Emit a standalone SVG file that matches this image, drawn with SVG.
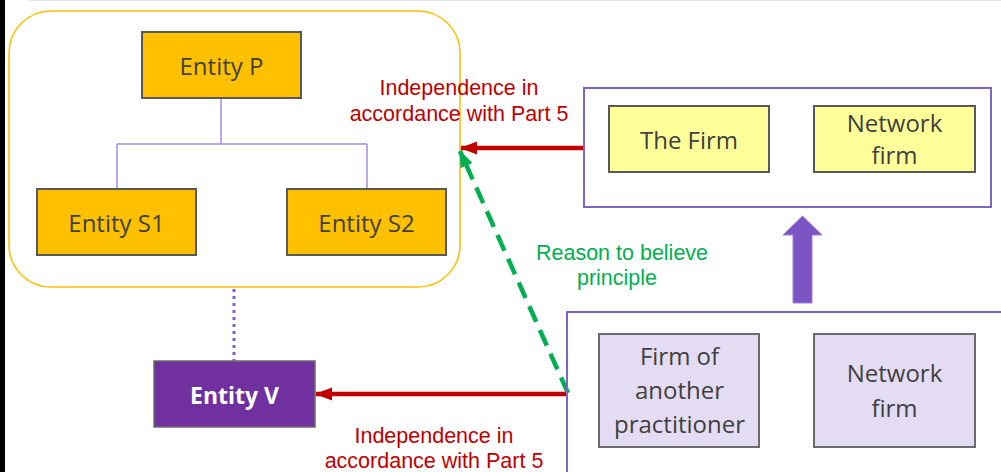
<svg xmlns="http://www.w3.org/2000/svg" width="1001" height="472" viewBox="0 0 1001 472">
<style>
.ent{fill:#FFC000;stroke:#595959;stroke-width:2}
.yel{fill:#FFFF99;stroke:#595959;stroke-width:2}
.lav{fill:#E4DCF2;stroke:#6b6b6b;stroke-width:2}
.grp{fill:none;stroke:#8064C8;stroke-width:2}
.t{font-family:"Open Sans","Noto Sans",sans-serif;font-size:24px;fill:#404040;text-anchor:middle}
.lbl{font-family:"Liberation Sans",Arial,sans-serif;font-size:21.5px;text-anchor:middle}
.red{fill:#C00000}
.grn{fill:#00B050}
</style>
<defs>
<marker id="ahR" markerUnits="userSpaceOnUse" markerWidth="18" markerHeight="14" refX="16" refY="6.5" orient="auto">
<path d="M0,0 L17,6.5 L0,13 z" fill="#C00000"/>
</marker>
<marker id="ahG" markerUnits="userSpaceOnUse" markerWidth="18" markerHeight="14" refX="16" refY="6.5" orient="auto">
<path d="M0,0 L17,6.5 L0,13 z" fill="#00B050"/>
</marker>
</defs>
<rect x="0" y="0" width="5" height="472" fill="#000"/>
<line x1="27" y1="0.5" x2="1001" y2="0.5" stroke="#E6E6EC" stroke-width="1"/>
<g id="groupP">
<rect x="9" y="11" width="451" height="276" rx="42" ry="42" fill="#fff" stroke="#FFC000" stroke-width="1.6"/>
</g>
<g id="connectors">
<path d="M221,98 V144 M117,144 H367 M117,144 V189 M367,144 V189" fill="none" stroke="#A58CE6" stroke-width="1.5"/>
<line x1="234" y1="289" x2="234" y2="361" stroke="#7F5FD0" stroke-width="3" stroke-dasharray="3,4"/>
<line x1="584" y1="148" x2="461" y2="148" stroke="#C00000" stroke-width="4.5" marker-end="url(#ahR)"/>
<line x1="567" y1="394" x2="316" y2="394" stroke="#C00000" stroke-width="4.5" marker-end="url(#ahR)"/>
<line x1="568" y1="393" x2="460" y2="151" stroke="#00B050" stroke-width="4.5" stroke-dasharray="17,9" marker-end="url(#ahG)"/>
<path d="M793,303 V235 H783 L802.5,216 L822,235 H812 V303 Z" fill="#7B55C4" stroke="#9C80D8" stroke-width="1"/>
<text class="lbl red" x="459" y="95">Independence in</text>
<text class="lbl red" x="459" y="121">accordance with Part 5</text>
<text class="lbl red" x="434" y="443">Independence in</text>
<text class="lbl red" x="434" y="468">accordance with Part 5</text>
<text class="lbl grn" x="622" y="260">Reason to believe</text>
<text class="lbl grn" x="617" y="285">principle</text>
</g>
<g id="entityP">
<rect class="ent" x="142" y="32" width="159" height="66"/>
<text class="t" x="221.5" y="75">Entity P</text>
</g>
<g id="entityS1">
<rect class="ent" x="37" y="189" width="159" height="66"/>
<text class="t" x="116.5" y="232">Entity S1</text>
</g>
<g id="entityS2">
<rect class="ent" x="287" y="189" width="159" height="66"/>
<text class="t" x="366.5" y="232">Entity S2</text>
</g>
<g id="entityV">
<rect x="154" y="361" width="161" height="66" fill="#7030A0" stroke="#6b6b6b" stroke-width="1.5"/>
<text class="t" x="234.5" y="404" style="fill:#fff;font-weight:bold;font-size:23px">Entity V</text>
</g>
<g id="networkTop">
<rect class="grp" x="584" y="88" width="407" height="119"/>
</g>
<g id="theFirm">
<rect class="yel" x="609" y="106" width="160" height="66"/>
<text class="t" x="689" y="149">The Firm</text>
</g>
<g id="networkFirmTop">
<rect class="yel" x="814" y="106" width="161" height="66"/>
<text class="t" x="894.5" y="132">Network</text>
<text class="t" x="894.5" y="164">firm</text>
</g>
<g id="networkBottom">
<rect class="grp" x="567" y="312" width="450" height="200"/>
</g>
<g id="firmOther">
<rect class="lav" x="599" y="334" width="160" height="113"/>
<text class="t" x="679.5" y="365">Firm of</text>
<text class="t" x="679.5" y="399">another</text>
<text class="t" x="679.5" y="433">practitioner</text>
</g>
<g id="networkFirmBottom">
<rect class="lav" x="814" y="334" width="161" height="113"/>
<text class="t" x="894.5" y="382">Network</text>
<text class="t" x="894.5" y="417">firm</text>
</g>
</svg>
